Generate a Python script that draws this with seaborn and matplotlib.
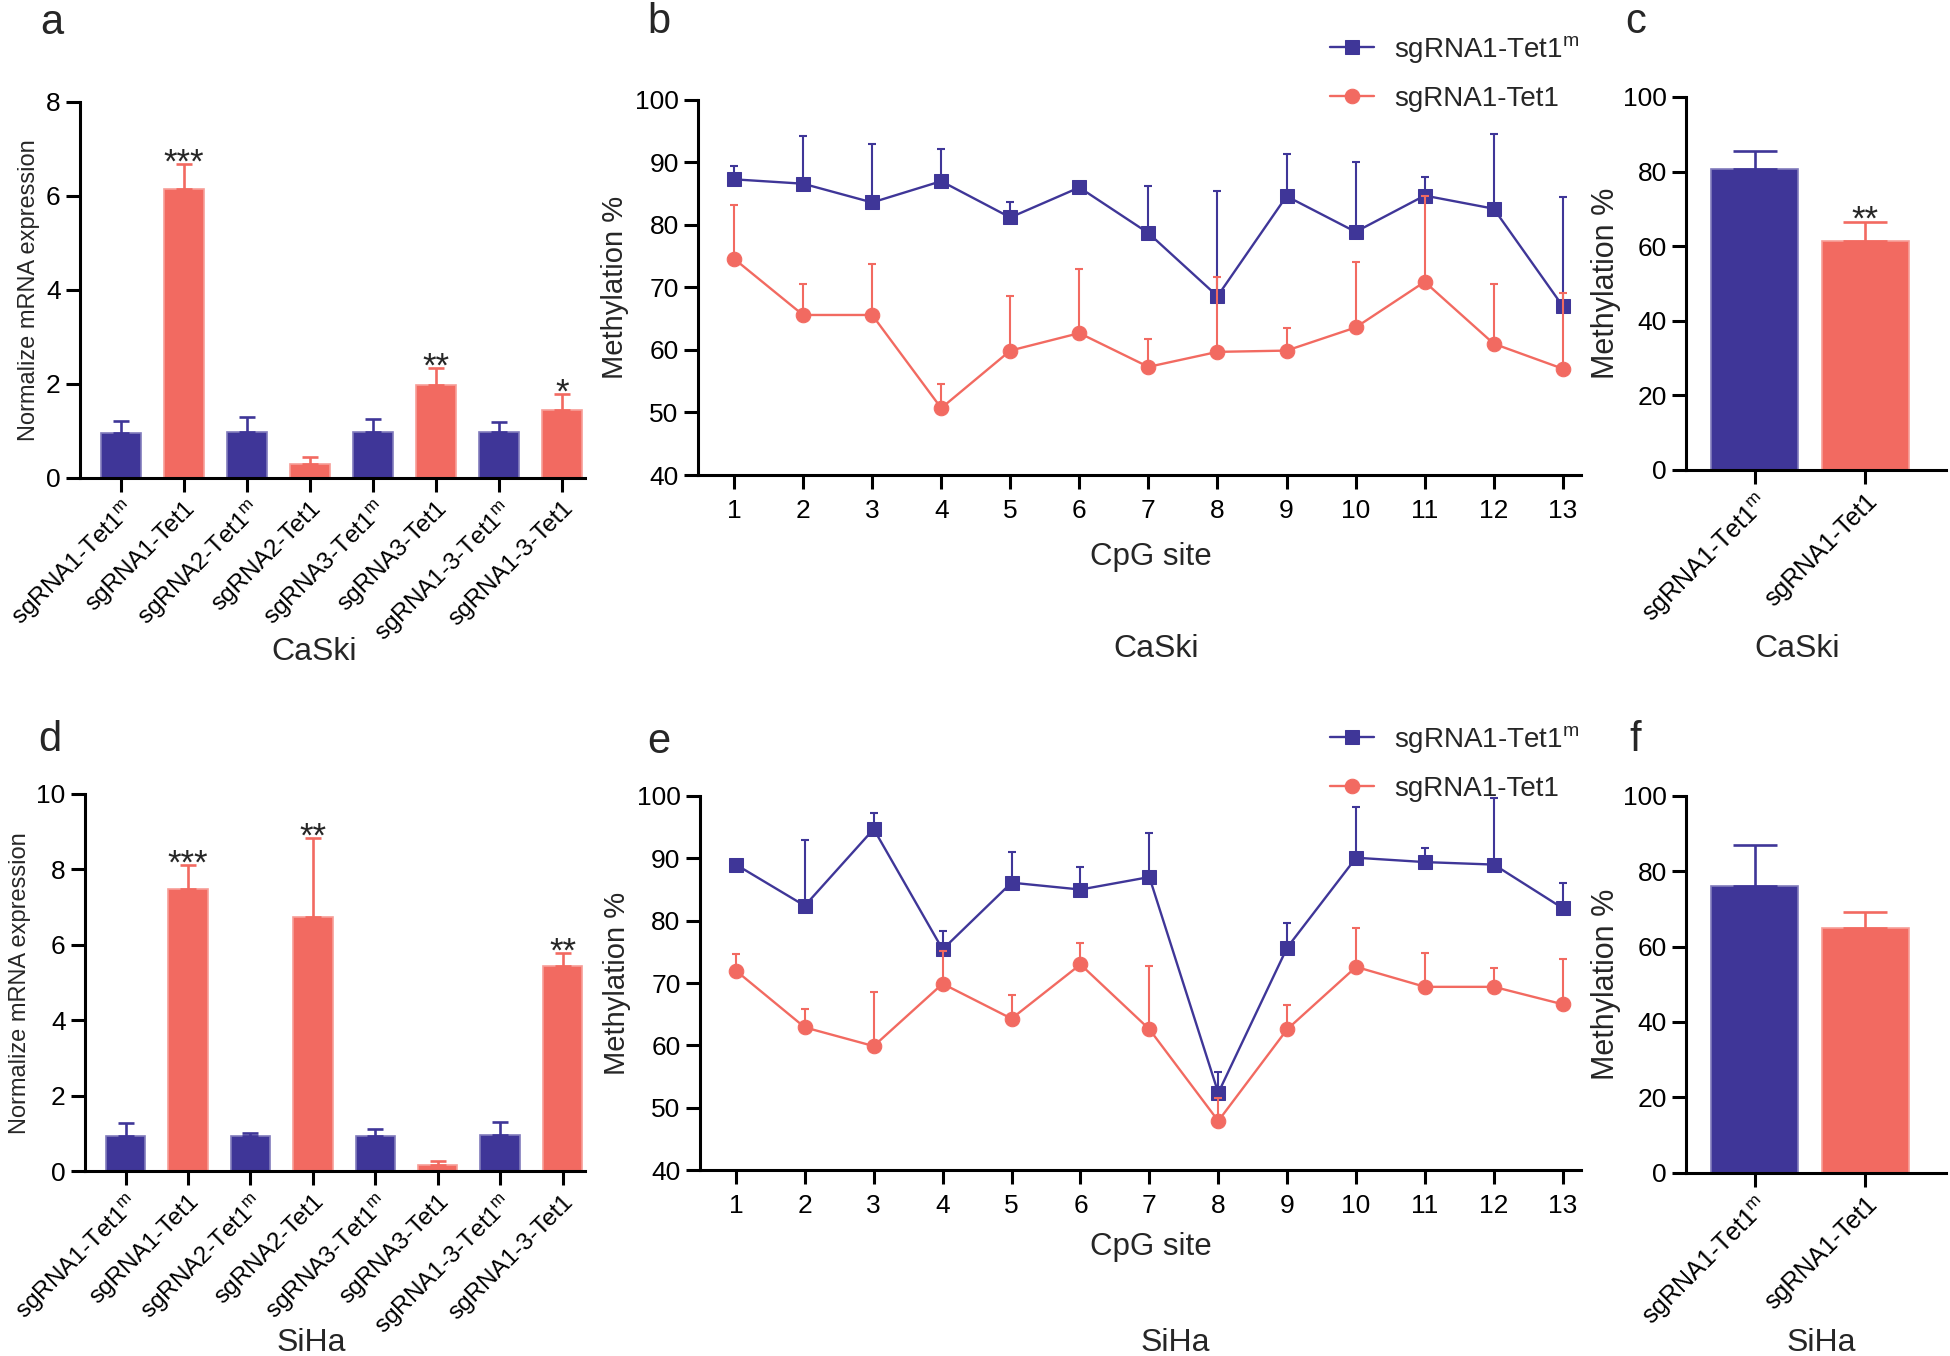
import numpy as np
import pandas as pd
import matplotlib
matplotlib.use("Agg")
import matplotlib.pyplot as plt
import matplotlib.colors as mcolors
import seaborn as sns

sns.set_style("ticks")
plt.rcParams["font.family"] = ["Liberation Sans", "DejaVu Sans"]
plt.rcParams["mathtext.default"] = "regular"
plt.rcParams["axes.linewidth"] = 2.2
plt.rcParams["axes.edgecolor"] = "black"
plt.rcParams["xtick.major.width"] = 2.2
plt.rcParams["ytick.major.width"] = 2.2
plt.rcParams["xtick.major.size"] = 10
plt.rcParams["ytick.major.size"] = 10
plt.rcParams["xtick.color"] = "black"
plt.rcParams["ytick.color"] = "black"

BLUE = "#3F3698"
RED = "#F26A61"

# ---- data ----
groups = ["sgRNA1-Tet1$^{m}$", "sgRNA1-Tet1",
          "sgRNA2-Tet1$^{m}$", "sgRNA2-Tet1",
          "sgRNA3-Tet1$^{m}$", "sgRNA3-Tet1",
          "sgRNA1-3-Tet1$^{m}$", "sgRNA1-3-Tet1"]

caski_mrna = [0.95, 6.15, 0.98, 0.30, 0.98, 1.98, 0.97, 1.45]
caski_mrna_err = [0.27, 0.53, 0.32, 0.15, 0.28, 0.35, 0.23, 0.33]
caski_stars = ["", "***", "", "", "", "**", "", "*"]

siha_mrna = [0.95, 7.48, 0.93, 6.75, 0.93, 0.17, 0.97, 5.43]
siha_mrna_err = [0.33, 0.64, 0.10, 2.08, 0.20, 0.10, 0.33, 0.35]
siha_stars = ["", "***", "", "**", "", "", "", "**"]

cpg_sites = [1, 2, 3, 4, 5, 6, 7, 8, 9, 10, 11, 12, 13]

caski_m = [87.3, 86.6, 83.6, 87.0, 81.2, 86.0, 78.7, 68.6, 84.6, 78.9, 84.7, 82.6, 67.0]
caski_m_err = [2.2, 7.6, 9.4, 5.2, 2.5, 0.5, 7.5, 16.9, 6.7, 11.1, 3.0, 11.9, 17.4]
caski_t = [74.6, 65.6, 65.6, 50.7, 59.9, 62.7, 57.3, 59.7, 59.9, 63.6, 70.9, 61.0, 57.0]
caski_t_err = [8.6, 5.0, 8.2, 3.8, 8.7, 10.2, 4.5, 11.9, 3.6, 10.4, 13.7, 9.5, 12.1]

siha_m = [89.0, 82.4, 94.7, 75.4, 86.1, 85.0, 87.0, 52.4, 75.7, 90.1, 89.4, 89.0, 82.0]
siha_m_err = [0.5, 10.6, 2.5, 3.0, 4.9, 3.6, 7.0, 3.4, 4.0, 8.2, 2.2, 10.6, 4.1]
siha_t = [72.0, 62.9, 59.9, 69.9, 64.3, 73.0, 62.6, 47.9, 62.6, 72.6, 69.4, 69.4, 66.6]
siha_t_err = [2.7, 3.0, 8.6, 5.2, 3.8, 3.5, 10.2, 3.7, 3.9, 6.3, 5.5, 3.0, 7.3]

pair_groups = ["sgRNA1-Tet1$^{m}$", "sgRNA1-Tet1"]
caski_total = [80.6, 61.4]
caski_total_err = [5.0, 5.2]
caski_total_stars = ["", "**"]
siha_total = [76.1, 64.9]
siha_total_err = [10.8, 4.2]
siha_total_stars = ["", ""]

fig = plt.figure(figsize=(19.5, 13.56), dpi=100)


def lighter(c, amt=0.35):
    r, g, b = mcolors.to_rgb(c)
    return (r + (1 - r) * amt, g + (1 - g) * amt, b + (1 - b) * amt)


def bar_panel(rect, labels, values, errors, stars, ylim, yticks, ylabel,
              ylabel_size, width, capsize, label_size, xlim, ylabel_pad):
    ax = fig.add_axes(rect)
    colors = [BLUE if "$^{m}$" in g else RED for g in labels]
    df = pd.DataFrame({"group": labels, "value": values})
    sns.barplot(data=df, x="group", y="value", hue="group", order=labels,
                hue_order=labels, palette=colors, width=width, saturation=1,
                legend=False, ax=ax, errorbar=None)
    for p, c in zip(ax.patches, colors):
        p.set_edgecolor(lighter(c))
        p.set_linewidth(1.2)
    for i, (v, e, c, s) in enumerate(zip(values, errors, colors, stars)):
        ax.errorbar(i, v, yerr=[[0], [e]], fmt="none", ecolor=c,
                    elinewidth=1.9, capsize=capsize, capthick=1.9, zorder=1)
        if s:
            ax.annotate(s, (i, v + e), xytext=(0, -6), textcoords="offset points",
                        ha="center", va="baseline", fontsize=25)
    ax.set_ylim(*ylim)
    ax.set_yticks(yticks)
    ax.set_xlim(*xlim)
    ax.set_xlabel("")
    ax.set_ylabel(ylabel, fontsize=ylabel_size, labelpad=ylabel_pad)
    ax.tick_params(axis="y", labelsize=19, pad=4)
    ax.tick_params(axis="x", labelsize=label_size, pad=4)
    plt.setp(ax.get_xticklabels(), rotation=45, ha="right", rotation_mode="anchor")
    sns.despine(ax=ax)
    return ax


def line_panel(rect, m_vals, m_err, t_vals, t_err, legend_anchor):
    ax = fig.add_axes(rect)
    series = [(m_vals, m_err, BLUE, "s", "sgRNA1-Tet1$^{m}$"),
              (t_vals, t_err, RED, "o", "sgRNA1-Tet1")]
    for vals, err, color, marker, label in series:
        sns.lineplot(x=cpg_sites, y=vals, color=color, marker=marker,
                     markersize=10.5, markeredgecolor=color, linewidth=1.7,
                     label=label, ax=ax, errorbar=None)
        ax.errorbar(cpg_sites, vals, yerr=[np.zeros(len(err)), err], fmt="none",
                    ecolor=color, elinewidth=1.5, capsize=3, capthick=1.5)
    ax.set_xlim(0.48, 13.27)
    ax.set_ylim(40, 100)
    ax.set_xticks(cpg_sites)
    ax.set_yticks(range(40, 101, 10))
    ax.tick_params(axis="y", labelsize=19, pad=4)
    ax.tick_params(axis="x", labelsize=19, pad=7)
    ax.set_xlabel("")
    ax.set_ylabel("Methylation %", fontsize=21, labelpad=4)
    ax.legend(loc="upper left", bbox_to_anchor=legend_anchor,
              bbox_transform=fig.transFigure, frameon=False, fontsize=20,
              handlelength=1.6, handletextpad=0.7, labelspacing=0.75,
              borderpad=0, borderaxespad=0)
    sns.despine(ax=ax)
    return ax


# a
bar_panel([0.041, 0.6475, 0.259, 0.2773], groups, caski_mrna, caski_mrna_err,
          caski_stars, (0, 8), [0, 2, 4, 6, 8], "Normalize mRNA expression",
          17, 0.63, 5.9, 17.5, (-0.65, 7.36), 4)
# b
line_panel([0.358, 0.6497, 0.453, 0.2766], caski_m, caski_m_err, caski_t,
           caski_t_err, (0.682, 0.975))
# c
bar_panel([0.8647, 0.6534, 0.1333, 0.2751], pair_groups, caski_total,
          caski_total_err, caski_total_stars, (0, 100), [0, 20, 40, 60, 80, 100],
          "Methylation %", 22, 0.79, 16, 18, (-0.62, 1.73), 1)
# d
bar_panel([0.0436, 0.1361, 0.2564, 0.2784], groups, siha_mrna, siha_mrna_err,
          siha_stars, (0, 10), [0, 2, 4, 6, 8, 10], "Normalize mRNA expression",
          17, 0.63, 5.9, 17.5, (-0.65, 7.36), 4)
# e
line_panel([0.359, 0.137, 0.452, 0.276], siha_m, siha_m_err, siha_t,
           siha_t_err, (0.682, 0.466))
# f
bar_panel([0.8647, 0.1352, 0.1333, 0.2778], pair_groups, siha_total,
          siha_total_err, siha_total_stars, (0, 100), [0, 20, 40, 60, 80, 100],
          "Methylation %", 22, 0.79, 16, 18, (-0.62, 1.73), 1)

# panel letters
for letter, x, y in [("a", 0.0267, 0.983), ("b", 0.338, 0.984), ("c", 0.8387, 0.984),
                     ("d", 0.0256, 0.4543), ("e", 0.338, 0.4528), ("f", 0.8387, 0.4543)]:
    fig.text(x, y, letter, fontsize=30, ha="center", va="center")

# cell line captions and CpG site labels
for name, x, y in [("CaSki", 0.161, 0.519), ("CaSki", 0.593, 0.5214),
                   ("CaSki", 0.9215, 0.5214), ("SiHa", 0.1594, 0.0096),
                   ("SiHa", 0.6027, 0.0096), ("SiHa", 0.934, 0.0096)]:
    fig.text(x, y, name, fontsize=23, ha="center", va="center")
fig.text(0.590, 0.589, "CpG site", fontsize=22.5, ha="center", va="center")
fig.text(0.590, 0.0802, "CpG site", fontsize=22.5, ha="center", va="center")

fig.savefig("out.png", dpi=100)
